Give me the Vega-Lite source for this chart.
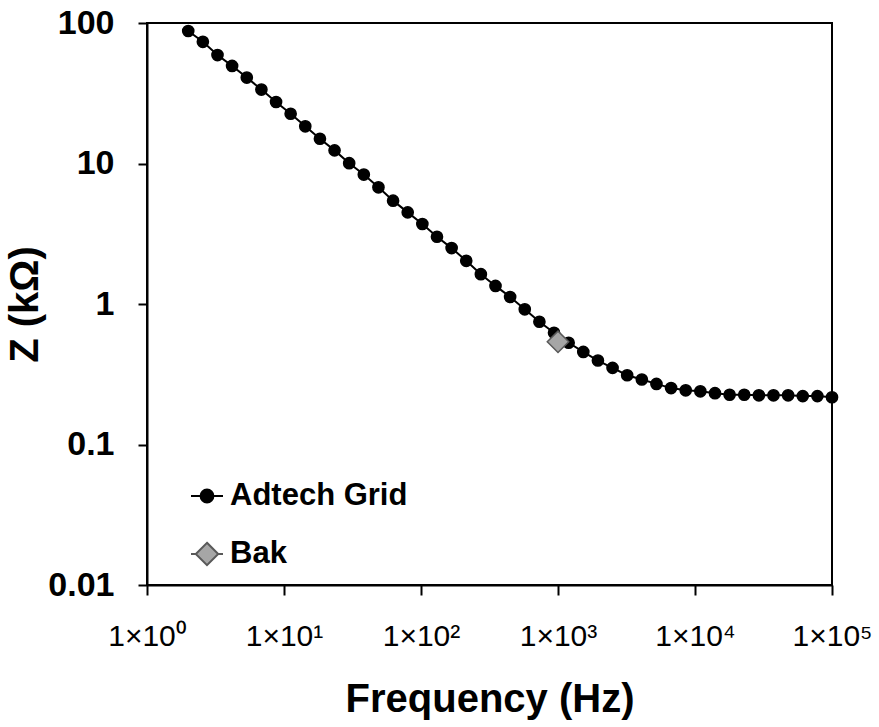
{
  "$schema": "https://vega.github.io/schema/vega-lite/v6.json",
  "width": 685,
  "height": 562,
  "autosize": "none",
  "padding": {"left": 147, "top": 23, "right": 47, "bottom": 142},
  "background": "white",
  "config": {
    "view": {"stroke": "black", "strokeWidth": 2},
    "font": "Liberation Sans"
  },
  "data": {
    "values": [
      {"series": "Adtech Grid", "f": 2.0, "z": 87.7},
      {"series": "Adtech Grid", "f": 2.557, "z": 73.5},
      {"series": "Adtech Grid", "f": 3.27, "z": 59.1},
      {"series": "Adtech Grid", "f": 4.18, "z": 49.5},
      {"series": "Adtech Grid", "f": 5.35, "z": 40.9},
      {"series": "Adtech Grid", "f": 6.84, "z": 33.6},
      {"series": "Adtech Grid", "f": 8.75, "z": 27.4},
      {"series": "Adtech Grid", "f": 11.18, "z": 22.6},
      {"series": "Adtech Grid", "f": 14.3, "z": 18.4},
      {"series": "Adtech Grid", "f": 18.29, "z": 15.0},
      {"series": "Adtech Grid", "f": 23.39, "z": 12.4},
      {"series": "Adtech Grid", "f": 29.91, "z": 10.05},
      {"series": "Adtech Grid", "f": 38.24, "z": 8.34},
      {"series": "Adtech Grid", "f": 48.91, "z": 6.77},
      {"series": "Adtech Grid", "f": 62.55, "z": 5.44},
      {"series": "Adtech Grid", "f": 79.98, "z": 4.49},
      {"series": "Adtech Grid", "f": 102.3, "z": 3.71},
      {"series": "Adtech Grid", "f": 130.8, "z": 3.01},
      {"series": "Adtech Grid", "f": 167.3, "z": 2.5},
      {"series": "Adtech Grid", "f": 213.9, "z": 2.03},
      {"series": "Adtech Grid", "f": 273.5, "z": 1.63},
      {"series": "Adtech Grid", "f": 349.8, "z": 1.345},
      {"series": "Adtech Grid", "f": 447.3, "z": 1.122},
      {"series": "Adtech Grid", "f": 572.0, "z": 0.916},
      {"series": "Adtech Grid", "f": 731.5, "z": 0.748},
      {"series": "Adtech Grid", "f": 935.4, "z": 0.624},
      {"series": "Adtech Grid", "f": 1196, "z": 0.53},
      {"series": "Adtech Grid", "f": 1530, "z": 0.456},
      {"series": "Adtech Grid", "f": 1956, "z": 0.396},
      {"series": "Adtech Grid", "f": 2502, "z": 0.351},
      {"series": "Adtech Grid", "f": 3199, "z": 0.311},
      {"series": "Adtech Grid", "f": 4091, "z": 0.29},
      {"series": "Adtech Grid", "f": 5231, "z": 0.27},
      {"series": "Adtech Grid", "f": 6690, "z": 0.252},
      {"series": "Adtech Grid", "f": 8555, "z": 0.243},
      {"series": "Adtech Grid", "f": 10940, "z": 0.239},
      {"series": "Adtech Grid", "f": 13990, "z": 0.232},
      {"series": "Adtech Grid", "f": 17890, "z": 0.226},
      {"series": "Adtech Grid", "f": 22880, "z": 0.226},
      {"series": "Adtech Grid", "f": 29260, "z": 0.224},
      {"series": "Adtech Grid", "f": 37410, "z": 0.224},
      {"series": "Adtech Grid", "f": 47850, "z": 0.224},
      {"series": "Adtech Grid", "f": 61180, "z": 0.221},
      {"series": "Adtech Grid", "f": 78240, "z": 0.221},
      {"series": "Adtech Grid", "f": 100000, "z": 0.217},
      {"series": "Bak", "f": 1000, "z": 0.538}
    ]
  },
  "encoding": {
    "x": {
      "field": "f",
      "type": "quantitative",
      "scale": {"type": "log", "domain": [1, 100000]},
      "axis": {
        "values": [1, 10, 100, 1000, 10000, 100000],
        "labelExpr": "'1×10' + ['⁰','¹','²','³','⁴','⁵'][round(log(datum.value)/LN10)]",
        "title": "Frequency (Hz)",
        "titleFontSize": 40,
        "titleFontWeight": "bold",
        "titleColor": "black",
        "titlePadding": 28,
        "labelFontSize": 30,
        "labelFontWeight": "normal",
        "labelColor": "black",
        "labelPadding": 26,
        "labelFlush": false,
        "labelOverlap": false,
        "tickColor": "black",
        "tickWidth": 2,
        "tickSize": 10,
        "domainColor": "black",
        "domainWidth": 2,
        "grid": false
      }
    },
    "y": {
      "field": "z",
      "type": "quantitative",
      "scale": {"type": "log", "domain": [0.01, 100]},
      "axis": {
        "values": [0.01, 0.1, 1, 10, 100],
        "format": "~g",
        "title": "Z (kΩ)",
        "titleFontSize": 40,
        "titleFontWeight": "bold",
        "titleColor": "black",
        "titlePadding": 2,
        "labelFontSize": 34,
        "labelFontWeight": "bold",
        "labelColor": "black",
        "labelPadding": 24,
        "labelFlush": false,
        "labelOverlap": false,
        "tickColor": "black",
        "tickWidth": 2,
        "tickSize": 9,
        "domainColor": "black",
        "domainWidth": 2,
        "grid": false
      }
    }
  },
  "layer": [
    {
      "transform": [{"filter": "datum.series === 'Adtech Grid'"}],
      "mark": {"type": "line", "color": "black", "strokeWidth": 2}
    },
    {
      "transform": [{"filter": "datum.series === 'Adtech Grid'"}],
      "mark": {"type": "point", "shape": "circle", "filled": true, "opacity": 1, "fill": "black", "stroke": "black", "strokeWidth": 1.5, "size": 125}
    },
    {
      "transform": [{"filter": "datum.series === 'Bak'"}],
      "mark": {"type": "point", "shape": "diamond", "filled": true, "opacity": 1, "fill": "#a6a6a6", "stroke": "#595959", "strokeWidth": 1.5, "size": 460}
    },
    {
      "mark": {"type": "point", "filled": true, "opacity": 1, "strokeWidth": 2},
      "encoding": {
        "size": {"value": 0},
        "shape": {
          "field": "series",
          "type": "nominal",
          "scale": {"domain": ["Adtech Grid", "Bak"], "range": ["M-1,0L1,0M-0.4,0A0.4,0.4,0,1,0,0.4,0A0.4,0.4,0,1,0,-0.4,0Z", "M-1,0L-0.7,0M0.7,0L1,0M0,-0.7L0.7,0L0,0.7L-0.7,0Z"]},
          "legend": {
            "title": null,
            "orient": "none",
            "legendX": 43,
            "legendY": 456,
            "padding": 0,
            "rowPadding": 26,
            "symbolSize": 1024,
            "symbolStrokeWidth": 2,
            "symbolOpacity": 1,
            "labelFontSize": 31,
            "labelFontWeight": "bold",
            "labelColor": "black",
            "labelOffset": 6,
            "labelLimit": 500
          }
        },
        "fill": {
          "field": "series",
          "type": "nominal",
          "scale": {"domain": ["Adtech Grid", "Bak"], "range": ["black", "#a6a6a6"]}
        },
        "stroke": {
          "field": "series",
          "type": "nominal",
          "scale": {"domain": ["Adtech Grid", "Bak"], "range": ["black", "#595959"]}
        }
      }
    }
  ]
}
